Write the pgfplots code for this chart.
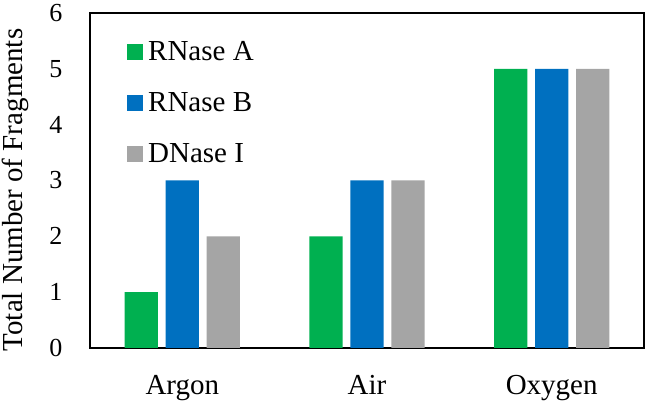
\documentclass[border=0pt]{standalone}
\usepackage{pgfplots}
\pgfplotsset{compat=1.18}
\usepackage{fontspec}
\setmainfont{Liberation Serif}
\definecolor{cgreen}{HTML}{00B050}
\definecolor{cblue}{HTML}{0070C0}
\definecolor{cgray}{HTML}{A5A5A5}
\begin{document}
\begin{tikzpicture}
\begin{axis}[
  at={(0pt,0pt)}, anchor=south west,
  scale only axis,
  width=554pt, height=335pt,
  xmin=-0.5, xmax=2.5,
  ymin=0, ymax=6,
  ytick={0,1,2,3,4,5,6},
  xtick={0,1,2},
  xticklabels={Argon,Air,Oxygen},
  major tick length=0pt,
  axis line style={line width=1.7pt},
  ybar, bar width=0.18,
  /pgf/number format/assume math mode=true,
  yticklabel style={font=\fontsize{26}{30}\selectfont, xshift=-24pt},
  xticklabel style={font=\fontsize{29}{33}\selectfont, anchor=base, yshift=-47pt},
  ylabel={Total Number of Fragments},
  ylabel style={font=\fontsize{29}{33}\selectfont, at={(axis description cs:0,0.5)},
    anchor=base, xshift=-9.5pt, yshift=67pt},
  legend style={at={(axis description cs:0,1)}, anchor=north west, draw=none, fill=none,
    xshift=37pt, yshift=-26pt, inner sep=0pt,
    font=\fontsize{29}{33}\selectfont, row sep=26.5pt, cells={anchor=west}},
  legend image code/.code={\fill[#1] (0pt,-8pt) rectangle (16pt,8pt); \path (19pt,0pt);},
]
\addplot[fill=cgreen, draw=none, bar shift=-0.222] coordinates {(0,1) (1,2) (2,5)};
\addplot[fill=cblue, draw=none, bar shift=0] coordinates {(0,3) (1,3) (2,5)};
\addplot[fill=cgray, draw=none, bar shift=0.222] coordinates {(0,2) (1,3) (2,5)};
\legend{RNase A, RNase B, DNase I}
\end{axis}
\pgfresetboundingbox
\useasboundingbox (-90pt,-55pt) rectangle (560pt,348pt);
\end{tikzpicture}
\end{document}
